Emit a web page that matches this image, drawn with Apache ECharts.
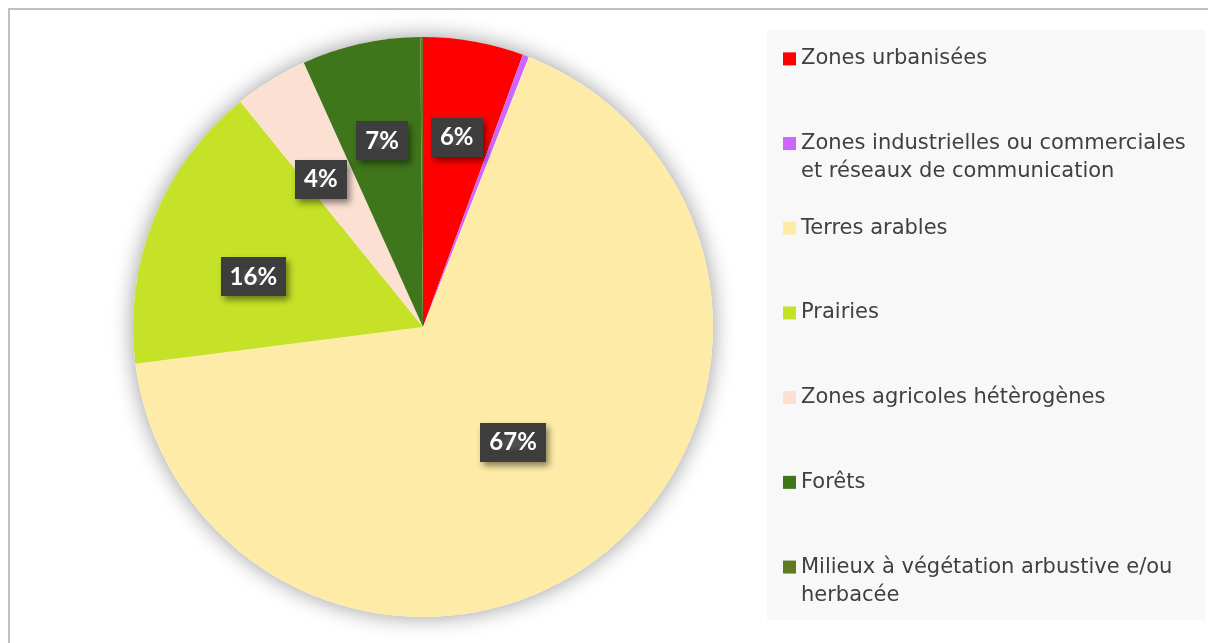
<!DOCTYPE html>
<html>
<head>
<meta charset="utf-8">
<script src="https://cdn.jsdelivr.net/npm/echarts@6/dist/echarts.min.js"></script>
<style>
  html, body { margin: 0; padding: 0; background: #fff; }
  #main { width: 1208px; height: 643px; }
  #frame {
    position: absolute; left: 8px; top: 8px; right: 0; bottom: 0;
    border-left: 2px solid #bfbfbf; border-top: 2px solid #bfbfbf;
    pointer-events: none;
  }
</style>
</head>
<body>
<div id="main"></div>
<div id="frame"></div>
<script>
// occupation du sol
const categories = [
  "Zones urbanisées",
  "Zones industrielles ou commerciales\net réseaux de communication",
  "Terres arables",
  "Prairies",
  "Zones agricoles hétèrogènes",
  "Forêts",
  "Milieux à végétation arbustive e/ou\nherbacée"
];
const values = [5.6, 0.35, 67.1, 16.2, 4.1, 6.6, 0.15];
const colors = ["#ff0000", "#cc66ff", "#feeba7", "#c5e128", "#fce0d2", "#3f761c", "#5e7b22"];

// position des étiquettes (rayon relatif, décalage angulaire en degrés)
const labelRadius = [0.665, 0.5, 0.505, 0.61, 0.62, 0.657, 0.5];
const labelShift = [0, 0, 0, -5.4, -3, 0, 0];

const cx = 423, cy = 327, R = 290;

// angles médians des parts
const total = values.reduce(function (a, b) { return a + b; }, 0);
const midAngles = [];
let acc = 0;
values.forEach(function (v) {
  midAngles.push(((acc + v / 2) / total) * 2 * Math.PI);
  acc += v;
});

// motif pointillé des étiquettes
const pat = document.createElement("canvas");
pat.width = 6; pat.height = 6;
const pc = pat.getContext("2d");
pc.fillStyle = "#3d3d3d";
pc.fillRect(0, 0, 6, 6);
pc.fillStyle = "#4e4e4e";
pc.fillRect(2, 2, 2, 2);

let myChart = echarts.init(document.getElementById("main"));

const S = 84.7, L = 28;
const legendData = categories.map(function (name) {
  const lines = name.split("\n").length;
  const p = lines > 1 ? (S - 3 * L) / 2 : (S - L) / 2;
  return { name: name, textStyle: { padding: [p, 0, p, 0] } };
});

const pieData = categories.map(function (name, i) {
  const d = { name: name, value: values[i], itemStyle: { color: colors[i] } };
  if (values[i] < 1) d.label = { show: false };
  return d;
});

let option = {
  backgroundColor: "#fff",
  animation: false,
  graphic: [
    {
      type: "rect",
      z: -1,
      shape: { x: 767, y: 30, width: 438, height: 590 },
      style: { fill: "#f8f8f8" }
    }
  ],
  legend: {
    orient: "vertical",
    left: 783,
    top: 16.5,
    padding: 0,
    itemGap: 0,
    itemWidth: 13,
    itemHeight: 13,
    icon: "rect",
    data: legendData,
    formatter: function (name) {
      // ligne vide au-dessus pour aligner la 1re ligne sur le carré
      return name.indexOf("\n") >= 0 ? "\n" + name : name;
    },
    textStyle: {
      fontFamily: "DejaVu Sans",
      fontSize: 21,
      lineHeight: L,
      color: "#404040"
    }
  },
  series: [
    {
      // ombre du disque
      type: "pie",
      silent: true,
      center: [cx, cy],
      radius: R,
      z: 1,
      label: { show: false },
      labelLine: { show: false },
      itemStyle: {
        color: "#fff",
        shadowBlur: 22,
        shadowColor: "rgba(0,0,0,0.4)"
      },
      data: [{ value: 1, name: "" }]
    },
    {
      type: "pie",
      center: [cx, cy],
      radius: R,
      startAngle: 90,
      clockwise: true,
      z: 2,
      data: pieData,
      label: {
        show: true,
        position: "inside",
        formatter: function (p) {
          return Math.round(p.percent) + "%";
        },
        fontFamily: "Lato",
        fontWeight: "bold",
        fontSize: 24,
        color: "#fff",
        backgroundColor: { image: pat, repeat: "repeat" },
        padding: [8, 9, 7, 9],
        shadowBlur: 6,
        shadowOffsetX: 3,
        shadowOffsetY: 4,
        shadowColor: "rgba(0,0,0,0.45)"
      },
      labelLine: { show: false },
      labelLayout: function (p) {
        const i = p.dataIndex;
        const a = midAngles[i] + (labelShift[i] * Math.PI) / 180;
        const r = labelRadius[i] * R;
        return {
          x: cx + r * Math.sin(a),
          y: cy - r * Math.cos(a),
          align: "center",
          verticalAlign: "middle"
        };
      }
    }
  ]
};

myChart.setOption(option);
window.addEventListener("resize", function () {
  myChart.resize();
});
</script>
</body>
</html>
